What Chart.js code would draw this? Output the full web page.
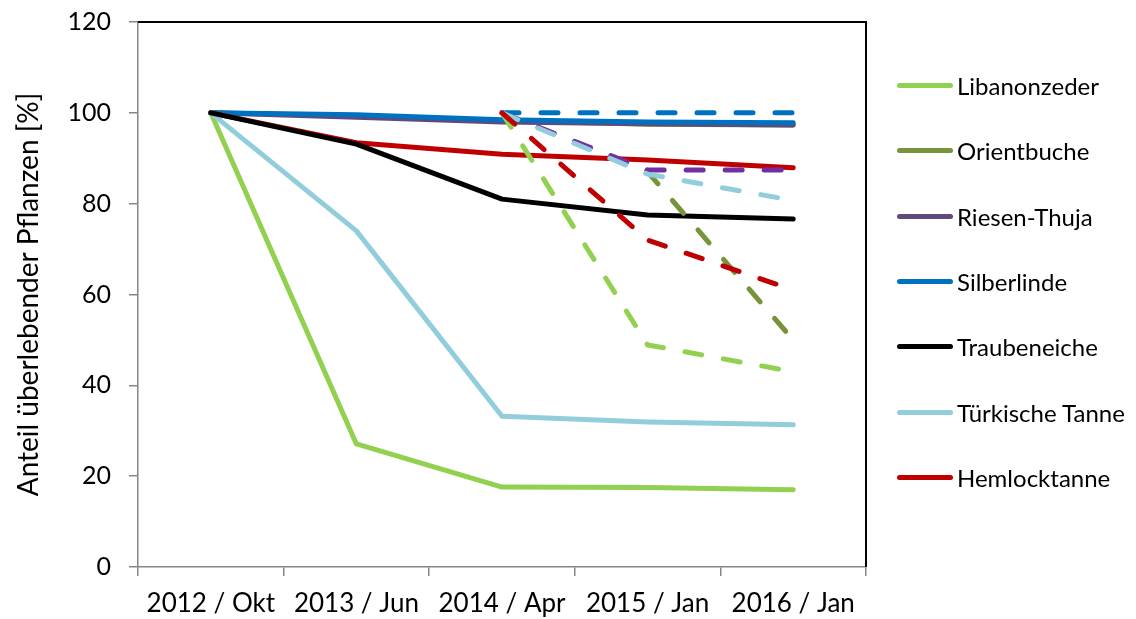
<!DOCTYPE html>
<html>
<head>
<meta charset="utf-8">
<script src="https://cdn.jsdelivr.net/npm/chart.js@4"></script>
<style>
  body { margin: 0; background: #fff; }
  #wrap { position: relative; width: 1136px; height: 619px; }
  #legend { position: absolute; left: 897px; top: 0; font-family: Lato, sans-serif; font-size: 24px; color: #000; }
  .item { position: absolute; left: 0; height: 30px; white-space: nowrap; }
  .item .ln { position: absolute; left: 0; top: 12px; width: 56px; height: 5px; border-radius: 3px; }
  .item .tx { position: absolute; left: 60px; top: 0; line-height: 30px; }
</style>
</head>
<body>
<div id="wrap">
  <canvas id="mycanvas" width="1136" height="619"></canvas>
  <div id="legend"></div>
</div>
<script>
// x categories
var labels = ["2012 / Okt", "2013 / Jun", "2014 / Apr", "2015 / Jan", "2016 / Jan"];

// species names, in legend order
var species = ["Libanonzeder", "Orientbuche", "Riesen-Thuja", "Silberlinde", "Traubeneiche", "Türkische Tanne", "Hemlocktanne"];
var colors = ["#92D050", "#77933C", "#604A7B", "#0070C0", "#000000", "#92CDDC", "#C00000"];

// solid lines (% surviving plants)
var libanonzeder  = [100, 27.1, 17.6, 17.5, 17.0];
var orientbuche   = [100, 99.3, 98.3, 97.5, 97.3];
var riesenThuja   = [100, 99.0, 98.0, 97.6, 97.3];
var silberlinde   = [100, 99.6, 98.5, 98.0, 97.8];
var traubeneiche  = [100, 93.1, 81.0, 77.5, 76.6];
var tuerkTanne    = [100, 74.0, 33.2, 31.9, 31.3];
var hemlocktanne  = [100, 93.4, 90.9, 89.6, 87.9];

// dashed lines (second group, starting 2014 / Apr)
var libanonzederB = [null, null, 100, 48.9, 43.0];
var orientbucheB  = [null, null, 100, 87.0, 50.0];
var riesenThujaB  = [null, null, 100, 87.4, 87.4];
var silberlindeB  = [null, null, 100, 100, 100];
var tuerkTanneB   = [null, null, 100, 86.5, 80.7];
var hemlocktanneB = [null, null, 100, 72.0, 61.0];

var yTicks = [0, 20, 40, 60, 80, 100, 120];

var solid = [libanonzeder, orientbuche, riesenThuja, silberlinde, traubeneiche, tuerkTanne, hemlocktanne];
var dashed = [
    { data: libanonzederB, color: "#92D050" },
    { data: orientbucheB, color: "#77933C" },
    { data: riesenThujaB, color: "#7030A0" },
    { data: silberlindeB, color: "#0070C0" },
    { data: tuerkTanneB, color: "#92CDDC" },
    { data: hemlocktanneB, color: "#C00000" }
];

// solid draw order: black above red at the start, like the reference
var solidOrder = [0, 1, 2, 3, 6, 5, 4];

var datasets = [];
var z = 100; // later series drawn on top
for (var n = 0; n < solidOrder.length; n++) {
    var i = solidOrder[n];
    datasets.push({
        label: species[i],
        data: solid[i],
        borderColor: colors[i],
        borderWidth: 5,
        borderCapStyle: 'round',
        borderJoinStyle: 'round',
        pointRadius: 0,
        fill: false,
        tension: 0,
        order: z--
    });
}
for (var j = 0; j < dashed.length; j++) {
    datasets.push({
        label: species[j] + " (2)",
        data: dashed[j].data,
        borderColor: dashed[j].color,
        borderWidth: 5,
        borderDash: [17, 22],
        borderCapStyle: 'round',
        pointRadius: 0,
        fill: false,
        tension: 0,
        order: z--
    });
}

// legend (only solid series)
var legend = document.getElementById("legend");
for (var k = 0; k < species.length; k++) {
    var it = document.createElement("div");
    it.className = "item";
    it.style.top = (71 + k * 65.3) + "px";
    it.innerHTML = '<div class="ln" style="background:' + colors[k] + '"></div><div class="tx">' + species[k] + '</div>';
    legend.appendChild(it);
}

// top and right frame of the plot area
var frame = {
    id: 'frame',
    afterDraw: function(chart) {
        var a = chart.chartArea, ctx = chart.ctx;
        ctx.save();
        ctx.strokeStyle = '#000';
        ctx.lineWidth = 2;
        ctx.beginPath();
        ctx.moveTo(a.left, a.top);
        ctx.lineTo(a.right, a.top);
        ctx.lineTo(a.right, a.bottom);
        ctx.stroke();
        ctx.restore();
    }
};

Chart.defaults.font.family = "Lato, sans-serif";
Chart.defaults.color = "#000";

var ctx = document.getElementById("mycanvas");
var lineChart = new Chart(ctx, {
    type: 'line',
    data: { labels: labels, datasets: datasets },
    plugins: [frame],
    options: {
        responsive: false,
        animation: false,
        spanGaps: false,
        layout: { padding: { top: 22, right: 270, left: 0, bottom: 0 } },
        scales: {
            x: {
                offset: true,
                grid: { offset: true, drawOnChartArea: false, tickLength: 9, color: '#868686', lineWidth: 1.5 },
                border: { color: '#868686', width: 1.5 },
                ticks: { font: { size: 26 }, padding: 12, maxRotation: 0 },
                afterFit: function(scale) { scale.height = 52; }
            },
            y: {
                min: 0,
                max: 120,
                afterBuildTicks: function(scale) {
                    scale.ticks = yTicks.map(function(v) { return { value: v }; });
                },
                grid: { drawOnChartArea: false, tickLength: 9, color: '#868686', lineWidth: 1.5 },
                border: { color: '#868686', width: 1.5 },
                ticks: { font: { size: 25 }, padding: 18 },
                title: {
                    display: true,
                    text: 'Anteil überlebender Pflanzen [%]',
                    font: { size: 28 },
                    padding: { top: 12, bottom: 0 }
                },
                afterFit: function(scale) {
                    scale.width = 138;
                    scale.paddingTop = 0;
                    scale.paddingBottom = 0;
                }
            }
        },
        plugins: {
            legend: { display: false },
            tooltip: { enabled: false }
        }
    }
});
</script>
</body>
</html>
